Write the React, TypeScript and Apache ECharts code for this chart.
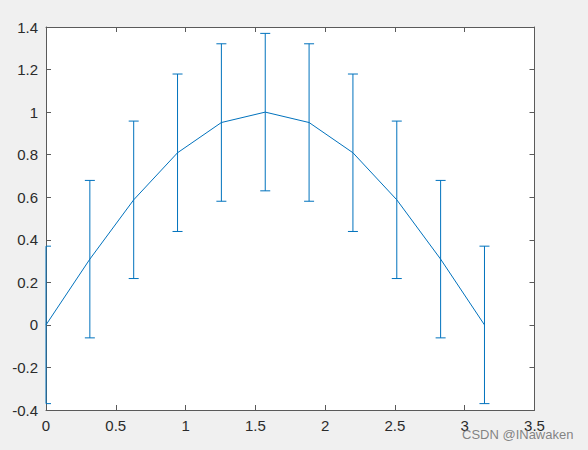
import React, { useEffect, useRef } from "react";
import * as echarts from "echarts";

const xValues = [0, 0.3142, 0.6283, 0.9425, 1.2566, 1.5708, 1.885, 2.1991, 2.5133, 2.8274, 3.1416];
const yValues = [0, 0.309, 0.5878, 0.809, 0.9511, 1.0, 0.9511, 0.809, 0.5878, 0.309, 0];
const errValues = [0.37, 0.37, 0.37, 0.37, 0.37, 0.37, 0.37, 0.37, 0.37, 0.37, 0.37];

const BLUE = "#0072BD";
const AXIS = "#5a5a5a";
const LABEL = "#2b2b2b";
const FONT = "'Liberation Sans', Arial, Helvetica, sans-serif";

export default function App() {
  const ref = useRef<HTMLDivElement>(null);
  useEffect(() => {
    if (!ref.current) return;
    const chart = echarts.init(ref.current, null, { renderer: "svg" });
    const lineData = xValues.map((x, i) => [x, yValues[i]]);
    const errData = xValues.map((x, i) => [x, yValues[i] - errValues[i], yValues[i] + errValues[i]]);
    const axisCommon = {
      axisLine: { show: true, onZero: false, lineStyle: { color: AXIS, width: 1 } },
      axisTick: { show: true, inside: true, length: 5, lineStyle: { color: AXIS } },
      splitLine: { show: false },
    };
    chart.setOption({
      animation: false,
      backgroundColor: "#f0f0f0",
      grid: { left: 46, right: 53.5, top: 27, bottom: 40, show: true, backgroundColor: "#ffffff", borderWidth: 0 },
      xAxis: [
        {
          type: "value",
          min: 0,
          max: 3.5,
          interval: 0.5,
          position: "bottom",
          ...axisCommon,
          axisLabel: { color: LABEL, fontSize: 15, fontFamily: FONT, margin: 8 },
        },
        {
          type: "value",
          min: 0,
          max: 3.5,
          interval: 0.5,
          position: "top",
          ...axisCommon,
          axisLabel: { show: false },
        },
      ],
      yAxis: [
        {
          type: "value",
          min: -0.4,
          max: 1.4,
          interval: 0.2,
          position: "left",
          ...axisCommon,
          axisLabel: { color: LABEL, fontSize: 15, fontFamily: FONT, margin: 8 },
        },
        {
          type: "value",
          min: -0.4,
          max: 1.4,
          interval: 0.2,
          position: "right",
          ...axisCommon,
          axisLabel: { show: false },
        },
      ],
      graphic: [
        {
          type: "text",
          left: 462,
          top: 428,
          style: { text: "CSDN @INawaken", fill: "rgba(110,110,110,0.85)", fontSize: 13, fontFamily: FONT },
          z: 100,
        },
      ],
      series: [
        {
          type: "custom",
          xAxisIndex: 0,
          yAxisIndex: 0,
          clip: false,
          data: errData,
          renderItem: (params: any, api: any) => {
            const x = api.value(0);
            const lo = api.coord([x, api.value(1)]);
            const hi = api.coord([x, api.value(2)]);
            const cs = params.coordSys;
            const leftEdge = cs.x;
            const rightEdge = cs.x + cs.width;
            const hw = 5;
            const cl = Math.max(lo[0] - hw, leftEdge);
            const cr = Math.min(lo[0] + hw, rightEdge);
            const style = { stroke: BLUE, lineWidth: 1, fill: "none" };
            return {
              type: "group",
              children: [
                { type: "line", shape: { x1: lo[0], y1: lo[1], x2: hi[0], y2: hi[1] }, style },
                { type: "line", shape: { x1: cl, y1: lo[1], x2: cr, y2: lo[1] }, style },
                { type: "line", shape: { x1: cl, y1: hi[1], x2: cr, y2: hi[1] }, style },
              ],
            };
          },
          z: 5,
        },
        {
          type: "line",
          xAxisIndex: 0,
          yAxisIndex: 0,
          data: lineData,
          symbol: "none",
          lineStyle: { color: BLUE, width: 1 },
          z: 6,
        },
      ],
    });
    return () => chart.dispose();
  }, []);
  return <div ref={ref} style={{ position: "fixed", left: 0, top: 0, width: 588, height: 450 }} />;
}
